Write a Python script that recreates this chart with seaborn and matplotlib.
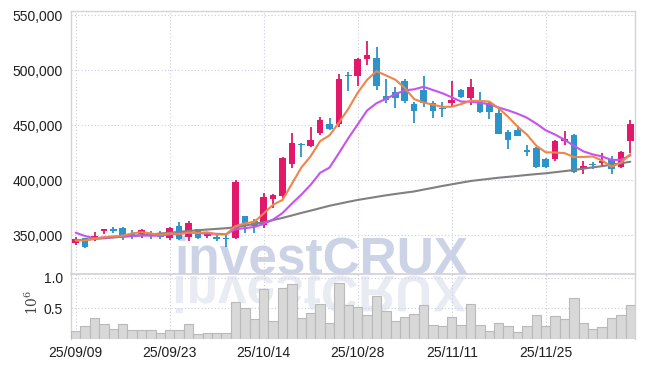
import matplotlib
matplotlib.use("Agg")
import matplotlib.pyplot as plt
from matplotlib.textpath import TextPath
from matplotlib.patches import PathPatch
from matplotlib.font_manager import FontProperties
from matplotlib.transforms import Affine2D, IdentityTransform
from matplotlib.ticker import FuncFormatter
import numpy as np
import pandas as pd
import seaborn as sns

# ---------------- data (prices in thousands of won) ----------------
dates = ["25/09/09", "25/09/10", "25/09/11", "25/09/12", "25/09/15", "25/09/16", "25/09/17",
         "25/09/18", "25/09/19", "25/09/22", "25/09/23", "25/09/24", "25/09/25", "25/09/26",
         "25/09/29", "25/09/30", "25/10/01", "25/10/02", "25/10/10", "25/10/13", "25/10/14",
         "25/10/15", "25/10/16", "25/10/17", "25/10/20", "25/10/21", "25/10/22", "25/10/23",
         "25/10/24", "25/10/27", "25/10/28", "25/10/29", "25/10/30", "25/10/31", "25/11/03",
         "25/11/04", "25/11/05", "25/11/06", "25/11/07", "25/11/10", "25/11/11", "25/11/12",
         "25/11/13", "25/11/14", "25/11/17", "25/11/18", "25/11/19", "25/11/20", "25/11/21",
         "25/11/24", "25/11/25", "25/11/26", "25/11/27", "25/11/28", "25/12/01", "25/12/02",
         "25/12/03", "25/12/04", "25/12/05", "25/12/08"]

opens = [343.5, 347.5, 346.5, 354, 356, 357, 351, 351, 352, 351,
         348, 358.5, 349, 355.7, 349.5, 348.5, 348, 348, 367.7, 363.5,
         359.5, 383.5, 385.5, 415, 433, 431.5, 443.5, 451, 451.5, 495,
         494.5, 510, 511, 476.5, 480, 490.5, 469.5, 482, 470, 466,
         470.5, 482.3, 474.5, 471, 470, 461, 444, 445.5, 427.5, 429.5,
         419.5, 419.3, 436, 441.5, 410.5, 415, 415.5, 419.5, 412.5, 435.5]
highs = [348.5, 348, 353, 356, 358, 358, 355, 356, 354.5, 354,
         358, 362, 363.5, 356, 353, 352.5, 350, 400, 368, 365,
         389, 388, 421, 443, 434.5, 449, 458, 456.5, 496.5, 499,
         511, 527, 521.5, 492, 485, 492, 471, 494.5, 472, 471.5,
         490, 483, 492, 480, 471, 466.5, 445.5, 449.5, 432, 430,
         420, 437, 445, 442, 418, 417, 425, 422.5, 427, 455]
lows = [341, 339, 345, 351, 352.5, 346, 346.5, 348, 347, 347,
        346, 345.5, 345, 347, 347.5, 345, 339.5, 347, 352, 352,
        357, 375, 383, 411, 421, 430, 441.5, 446, 449, 481,
        486, 505, 482, 470, 466, 470, 452, 467, 456.5, 457.5,
        467.5, 474.5, 468.5, 461, 455.5, 442, 428.5, 440, 422, 411,
        411.5, 418, 432, 407, 406, 410.5, 412.5, 406, 411, 425]
closes = [347, 339.5, 349.5, 355.5, 354.5, 350, 349.8, 355, 349.5, 348.5,
          356.5, 347, 361.5, 348, 351.5, 347, 347, 399, 360.5, 358.5,
          385, 387, 420.5, 434, 432, 437, 455, 447, 492, 494.5,
          510, 514, 486, 473, 475, 472.5, 463.5, 470, 463.5, 465,
          473, 475.5, 485, 462.5, 462.5, 442.5, 437, 440.5, 426, 412,
          412.5, 436, 438, 407.5, 413, 414.5, 417.5, 410, 426, 451.5]

ma5 = [345.5, 345.5, 347, 348.5, 349.2, 349.8, 351.9, 353, 351.8, 350.6,
       351.9, 351.3, 352.6, 352.3, 352.9, 351, 351, 358.5, 361, 362.4,
       370, 378, 382.3, 397, 411.7, 422.1, 435.7, 441, 452.6, 465.1,
       479.7, 491.5, 499.3, 495.5, 491.6, 484.1, 474, 470.8, 468.9, 466.9,
       467, 469.4, 472.4, 472.2, 471.7, 465.6, 457.9, 449, 441.7, 431.6,
       425.6, 425.4, 424.9, 421.2, 421.4, 421.8, 418.1, 412.5, 416.2, 423.9]
ma10 = [352.5, 349.5, 347.5, 348, 348.5, 349, 349.5, 350, 349.8, 349.9,
        350.9, 351.6, 352.8, 352.1, 351.8, 351.5, 351.2, 355.6, 356.7, 357.7,
        360.5, 364.5, 370.4, 379, 387.1, 396.1, 406.9, 411.7, 424.8, 438.4,
        450.9, 463.6, 470.2, 474.1, 478.4, 481.9, 482.8, 485.1, 482.2, 479.3,
        475.6, 471.7, 471.6, 470.6, 469.3, 466.3, 463.7, 460.7, 457, 451.7,
        445.6, 441.7, 437, 431.5, 426.5, 423.7, 421.8, 418.7, 418.7, 422.7]
ma_long = [345.5, 346.2, 346.8, 347.5, 348.2, 349, 349.6, 350.3, 351, 351.8,
           352.5, 353.3, 354.1, 354.8, 355.4, 356, 356.6, 357.5, 359, 360.5,
           362, 364, 366, 368.2, 370.5, 372.6, 374.8, 377, 378.8, 380.6,
           382.3, 383.7, 385.1, 386.5, 387.7, 388.9, 390, 391.7, 393.3, 395,
           396.5, 398, 399.5, 400.5, 401.5, 402.5, 403.3, 404.1, 405, 405.8,
           406.5, 407.5, 408.5, 409.5, 410.7, 411.9, 413, 414.3, 415.6, 417]

volume_m = [0.135, 0.21, 0.345, 0.25, 0.17, 0.25, 0.146, 0.146, 0.146, 0.094,
            0.146, 0.146, 0.25, 0.08, 0.094, 0.094, 0.094, 0.60, 0.50, 0.33,
            0.82, 0.29, 0.84, 0.90, 0.35, 0.425, 0.57, 0.27, 0.92, 0.55,
            0.525, 0.40, 0.70, 0.455, 0.30, 0.36, 0.41, 0.55, 0.236, 0.21,
            0.367, 0.225, 0.58, 0.236, 0.13, 0.257, 0.205, 0.115, 0.21, 0.40,
            0.205, 0.378, 0.335, 0.677, 0.257, 0.162, 0.194, 0.35, 0.40, 0.556]

tick_dates = ["25/09/09", "25/09/23", "25/10/14", "25/10/28", "25/11/11", "25/11/25"]

# ---------------- frame ----------------
df = pd.DataFrame({
    "date": dates,
    "open": np.array(opens) * 1000,
    "high": np.array(highs) * 1000,
    "low": np.array(lows) * 1000,
    "close": np.array(closes) * 1000,
    "ma5": np.array(ma5) * 1000,
    "ma10": np.array(ma10) * 1000,
    "malong": np.array(ma_long) * 1000,
    "vol": volume_m,
})
df["idx"] = np.arange(len(df))
df["up"] = df["close"] >= df["open"]

RED = "#e2186a"
BLUE = "#2c94c8"
GRID = "#c9cce0"
SPINE = "#d2d2d8"

sns.set_theme(style="white")
plt.rcParams["font.family"] = ["Liberation Sans", "DejaVu Sans"]

fig = plt.figure(figsize=(6.45, 3.68), dpi=100)
fig.patch.set_facecolor("white")
ax = fig.add_axes([71 / 645, 1 - 274 / 368, (635 - 71) / 645, (274 - 11) / 368])
axv = fig.add_axes([71 / 645, 1 - 339 / 368, (635 - 71) / 645, (339 - 274) / 368], sharex=ax)
for a in (ax, axv):
    a.set_facecolor("none")

# ---------------- candles ----------------
colors = np.where(df["up"], RED, BLUE)
ax.vlines(df["idx"], df["low"], df["high"], colors=colors, linewidth=1.3, zorder=2)
body_bottom = np.minimum(df["open"], df["close"])
body_h = np.maximum(np.abs(df["close"] - df["open"]), 900)
ax.bar(df["idx"], body_h, bottom=body_bottom, width=0.72, color=colors,
       edgecolor="none", zorder=3)

# ---------------- moving averages ----------------
sns.lineplot(data=df, x="idx", y="malong", color="#808080", linewidth=1.5, ax=ax, zorder=4)
sns.lineplot(data=df, x="idx", y="ma10", color="#c652ef", linewidth=1.5, ax=ax, zorder=5)
sns.lineplot(data=df, x="idx", y="ma5", color="#ef8548", linewidth=1.5, ax=ax, zorder=6)

# ---------------- volume ----------------
sns.barplot(data=df, x="idx", y="vol", native_scale=True, width=1.0, color="#d8d8d8",
            saturation=1, edgecolor="#b9b9b9", linewidth=0.8, ax=axv, zorder=3)

# ---------------- axes styling ----------------
tick_pos = [dates.index(d) for d in tick_dates]
ax.set_xlim(-0.5, len(df) - 0.5)
ax.set_ylim(315000, 554000)
ax.set_yticks([350000, 400000, 450000, 500000, 550000])
ax.yaxis.set_major_formatter(FuncFormatter(lambda v, p: f"{int(v):,}"))
axv.set_ylim(0, 1.065)
axv.set_yticks([0.5, 1.0])
axv.yaxis.set_major_formatter(FuncFormatter(lambda v, p: f"{v:.1f}"))
axv.set_xticks(tick_pos)
axv.set_xticklabels(tick_dates)
plt.setp(ax.get_xticklabels(), visible=False)

for a in (ax, axv):
    a.set_xlabel("")
    a.set_ylabel("")
    a.grid(True, which="major", color=GRID, linestyle=(0, (1, 2)), linewidth=0.8)
    a.set_axisbelow(True)
    a.tick_params(axis="both", length=0, pad=6, labelsize=10, labelcolor="#1e1e1e")
    for s in ("left", "top", "right"):
        a.spines[s].set_color(SPINE)
        a.spines[s].set_linewidth(1.0)
axv.spines["bottom"].set_visible(False)
ax.spines["bottom"].set_color(SPINE)
axv.spines["top"].set_visible(False)
axv.tick_params(axis="x", pad=5)

fig.text(32 / 645, 1 - 302 / 368, r"$\mathregular{10^{6}}$", rotation=90, ha="center",
         va="center", fontsize=10, color="#444444", family="DejaVu Serif")

# ---------------- watermark ----------------
wm_size = 37
fig.text(321 / 645, 1 - 274 / 368, "investCRUX", ha="center", va="baseline",
         fontsize=wm_size, fontweight="bold", color="#cdd3e6", zorder=-1,
         family=["Liberation Sans", "DejaVu Sans"])
fp = FontProperties(family="Liberation Sans", weight="bold")
px = wm_size * fig.dpi / 72.0
tp = TextPath((0, 0), "investCRUX", size=px, prop=fp)
ext = tp.get_extents()
w = ext.x1 - ext.x0
tr = Affine2D().scale(1, -1).translate(321 - w / 2 - ext.x0, 368 - 276)
patch = PathPatch(tr.transform_path(tp), facecolor="#e9ebf3", edgecolor="none",
                  transform=IdentityTransform(), zorder=-2)
fig.patches.append(patch)

fig.savefig("out.png", dpi=100, facecolor="white")
